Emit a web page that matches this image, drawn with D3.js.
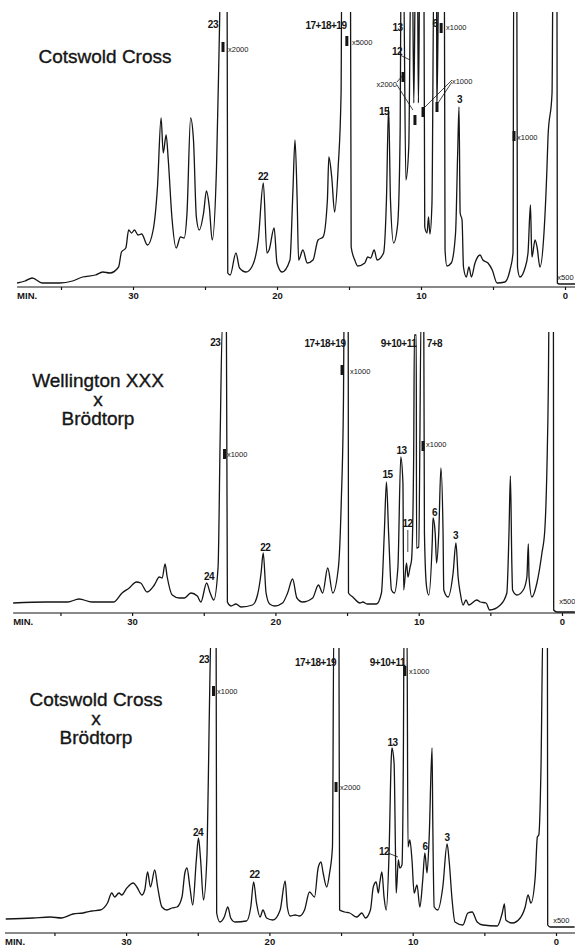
<!DOCTYPE html>
<html>
<head>
<meta charset="utf-8">
<script src="https://d3js.org/d3.v7.min.js"></script>
<style>
  body { margin: 0; background: #fff; }
  svg { display: block; font-family: 'Liberation Sans', Arial, sans-serif; }
  .trace { fill: none; stroke: #151515; stroke-width: 1.3; stroke-linejoin: round; }
  .axis path, .axis line { stroke: #151515; stroke-width: 1.2; }
  .axis text { font-size: 9.5px; font-weight: bold; fill: #151515; }
  .peak { font-size: 10px; font-weight: bold; fill: #151515; text-anchor: middle; letter-spacing: -0.5px; }
  .mult { font-size: 7.5px; fill: #151515; }
  .title { font-size: 19px; fill: #151515; stroke: #151515; stroke-width: 0.35px; text-anchor: middle; }
</style>
</head>
<body>
<div id="chart"></div>
<script>
// retention time (min) and detector response
const cotswoldTrace = [
  [38.05,1],[37.5,3],[37.0,6],[36.3,1],[35.1,1],[34.2,3],[33.5,7],[32.6,9],[32.1,12],[31.6,11],[31.0,17],[30.8,32],[30.5,36],[30.3,54],[30.1,51],[29.9,54],[29.65,49],[29.4,50],[29.0,39],[28.6,54],[28.3,97],[28.05,166],[27.9,131],[27.7,149],[27.55,124],[27.3,67],[27.0,36],[26.7,47],[26.45,46],[26.25,71],[26.0,166],[25.8,144],[25.6,67],[25.4,54],[25.1,71],[24.9,93],[24.7,77],[24.5,44],[24.2,117],[24.0,251],[23.9,320],[23.47,320],[23.42,11],[23.25,9],[22.85,31],[22.6,16],[22.15,12],[21.75,17],[21.3,44],[20.95,101],[20.7,31],[20.55,34],[20.2,56],[20.0,21],[19.65,12],[19.1,24],[18.9,91],[18.75,144],[18.6,84],[18.5,24],[18.2,34],[17.9,21],[17.5,24],[17.15,44],[16.8,47],[16.5,84],[16.4,127],[16.2,107],[16.0,72],[15.75,117],[15.55,191],[15.5,320],[14.9,320],[14.85,37],[14.6,24],[14.4,18],[13.9,21],[13.7,27],[13.5,26],[13.25,34],[13.05,24],[12.6,31],[12.4,84],[12.25,177],[12.12,84],[11.9,41],[11.62,60],[11.45,151],[11.38,320],[11.22,320],[11.05,104],[10.85,137],[10.7,320],[10.6,320],[10.5,181],[10.38,320],[10.25,320],[10.18,181],[10.08,320],[9.8,320],[9.74,57],[9.58,51],[9.48,67],[9.38,50],[9.24,80],[9.1,320],[8.92,320],[8.9,174],[8.75,320],[8.38,320],[8.33,34],[8.2,18],[7.9,21],[7.6,51],[7.45,133],[7.36,177],[7.28,71],[7.15,64],[7.05,17],[6.85,7],[6.67,17],[6.5,7],[6.25,21],[5.9,29],[5.7,24],[5.35,21],[5.05,14],[4.72,1],[4.17,2],[3.82,14],[3.61,31],[3.56,320],[3.35,320],[3.3,17],[3.13,7],[2.78,16],[2.57,31],[2.4,79],[2.33,40],[2.29,27],[2.08,44],[1.94,37],[1.74,17],[1.46,51],[1.25,117],[1.18,147],[0.9,191],[0.83,320],[0.56,320],[0.53,1],[0.4,0],[-0.7,0]
];
const wellingtonTrace = [
  [38.3,1],[36.0,2],[34.5,2],[33.7,5],[32.8,2],[31.3,2],[30.7,11],[30.2,16],[29.7,22],[29.4,21],[28.95,12],[28.45,19],[28.1,27],[27.9,26],[27.7,40],[27.55,27],[27.2,9],[26.7,6],[26.35,6],[25.9,11],[25.45,8],[25.2,2],[24.8,21],[24.55,11],[24.3,4],[24.0,37],[23.85,171],[23.7,280],[23.42,280],[23.35,2],[23.1,-2],[22.75,0],[22.4,-3],[21.6,-1],[21.25,9],[21.0,31],[20.85,51],[20.65,11],[20.4,0],[20.05,-2],[19.5,1],[19.15,11],[18.8,25],[18.5,6],[18.1,2],[17.4,6],[17.0,19],[16.7,11],[16.35,36],[16.0,11],[15.6,37],[15.4,104],[15.25,204],[15.2,300],[14.92,300],[14.9,11],[14.6,7],[14.1,1],[13.9,2],[13.6,0],[12.95,0],[12.6,11],[12.4,71],[12.25,122],[12.1,71],[11.9,14],[11.7,11],[11.45,37],[11.25,147],[11.1,121],[11.05,14],[10.85,41],[10.75,27],[10.6,37],[10.5,44],[10.35,150],[10.3,269],[10.17,269],[10.15,56],[10.0,57],[9.82,300],[9.65,300],[9.6,71],[9.45,17],[9.3,9],[9.05,64],[9.0,86],[8.85,71],[8.75,41],[8.6,71],[8.45,136],[8.3,71],[8.25,14],[7.95,7],[7.6,31],[7.4,61],[7.25,27],[7.1,11],[6.9,-1],[6.7,4],[6.5,-1],[5.95,4],[5.7,2],[5.3,1],[5.05,-6],[4.3,-1],[3.85,11],[3.7,71],[3.6,128],[3.5,40],[3.45,14],[3.15,9],[2.7,14],[2.45,27],[2.35,60],[2.3,27],[2.1,7],[1.75,21],[1.4,51],[1.2,74],[1.05,137],[0.95,221],[0.9,300],[0.6,300],[0.58,-6],[0.35,-8],[-0.9,-8]
];
const crossTrace = [
  [38.4,1],[36.5,2],[35.3,3],[34.5,2],[33.7,6],[33.0,7],[32.4,9],[31.8,10],[31.3,17],[31.0,27],[30.8,23],[30.5,27],[30.3,25],[29.95,32],[29.5,37],[29.25,33],[28.9,25],[28.7,30],[28.5,48],[28.3,33],[28.0,50],[27.8,33],[27.5,13],[27.15,10],[26.8,12],[26.45,13],[26.1,23],[25.9,47],[25.75,52],[25.55,33],[25.35,15],[25.1,60],[24.95,82],[24.8,60],[24.6,20],[24.35,67],[24.2,200],[24.05,300],[23.72,300],[23.68,7],[23.45,-2],[23.15,3],[22.9,13],[22.7,2],[22.4,-2],[21.6,-1],[21.3,13],[21.1,38],[20.9,17],[20.65,3],[20.45,10],[20.2,2],[19.75,0],[19.25,10],[18.9,39],[18.75,13],[18.55,4],[18.2,5],[17.9,4],[17.55,10],[17.2,28],[16.85,23],[16.6,52],[16.4,58],[16.25,47],[16.0,33],[15.8,47],[15.6,73],[15.5,300],[15.15,300],[15.1,10],[14.75,8],[14.4,7],[13.9,3],[13.55,7],[13.3,2],[12.95,10],[12.75,33],[12.55,38],[12.4,27],[12.3,37],[12.15,48],[12.0,23],[11.85,10],[11.65,67],[11.5,160],[11.45,172],[11.3,157],[11.2,67],[11.15,27],[11.0,60],[10.9,52],[10.75,55],[10.65,167],[10.6,300],[10.4,300],[10.33,73],[10.2,80],[10.05,60],[9.9,27],[9.7,35],[9.5,13],[9.3,40],[9.15,67],[9.0,47],[8.85,83],[8.65,172],[8.6,100],[8.5,13],[8.25,10],[7.9,33],[7.6,76],[7.45,58],[7.25,20],[7.05,-2],[6.5,-5],[6.15,7],[5.85,8],[5.5,-2],[5.1,-5],[4.1,-6],[3.75,7],[3.6,16],[3.5,0],[3.05,-3],[2.5,2],[2.15,13],[1.95,25],[1.75,17],[1.45,43],[1.3,83],[1.2,85],[1.05,150],[0.9,300],[0.6,300],[0.58,-5],[0.4,-7],[-1.3,-7]
];

// peak numbers: [label, time, response]
const cotswoldPeaks = [["23",24.45,256],["22",20.97,104],["17+18+19",16.6,255],["13",11.63,253],["12",11.67,229],["15",12.57,169],["6",9.03,257],["3",7.33,181]];
const wellingtonPeaks = [["23",24.2,258],["24",24.63,24],["22",20.7,53],["17+18+19",16.54,257],["9+10+11",11.41,257],["7+8",8.9,257],["13",11.2,150],["15",12.18,126],["12",10.78,77],["6",8.9,88],["3",7.43,65]];
const crossPeaks = [["23",24.56,257],["24",24.98,84],["22",21.04,42],["17+18+19",16.78,254],["9+10+11",11.76,254],["13",11.41,174],["12",12.0,65],["6",9.14,70],["3",7.6,79]];

// attenuation markers: [time, response]
const cotswoldMarks = [[23.75,237],[15.15,243],[8.6,256],[3.54,148],[11.25,207],[10.42,164],[9.86,172],[8.89,177]];
const wellingtonMarks = [[23.55,150],[15.35,234],[9.7,158]];
const crossMarks = [[23.9,229],[15.35,133],[10.55,249]];

// attenuation texts: [label, time, response, anchor]
const cotswoldMults = [["x2000",23.4,232,"start"],["x5000",14.8,239,"start"],["x1000",8.26,254,"start"],["x1000",3.33,144,"start"],["x500",-0.6,4,"end"],["x2000",11.67,197,"end"],["x1000",7.85,200,"start"]];
const wellingtonMults = [["x1000",23.38,147,"start"],["x1000",14.8,230,"start"],["x1000",9.49,157,"start"],["x500",0.2,0,"start"]];
const crossMults = [["x1000",23.65,226,"start"],["x2000",15.07,130,"start"],["x1000",10.26,246,"start"],["x500",0.2,-3,"start"]];

// leader lines: [t1, h1, t2, h2]
const cotswoldLeaders = [[11.46,229,10.76,224],[11.67,202,11.25,209],[11.67,199,10.56,174],[7.85,204,9.72,177],[7.85,202,8.82,181]];
const wellingtonLeaders = [[10.76,74,10.76,52]];
const crossLeaders = [[11.72,67,11.03,63]];

const cotswoldTitle = ["Cotswold Cross"];
const wellingtonTitle = ["Wellington XXX", "x", "Brödtorp"];
const crossTitle = ["Cotswold Cross", "x", "Brödtorp"];

const axisTicks = [35, 30, 25, 20, 15, 10, 5, 0];
const labelledTicks = [30, 20, 10, 0];
const axisName = "MIN.";

const panels = [
  {trace: cotswoldTrace, peaks: cotswoldPeaks, marks: cotswoldMarks, mults: cotswoldMults, leaders: cotswoldLeaders, title: cotswoldTitle,
   x0: 565, ppm: 14.4, tLeft: 38.05, tRight: -0.7, base: 284, axisH: -3, titleX: 105, titleY: 63},
  {trace: wellingtonTrace, peaks: wellingtonPeaks, marks: wellingtonMarks, mults: wellingtonMults, leaders: wellingtonLeaders, title: wellingtonTitle,
   x0: 562, ppm: 14.33, tLeft: 38.3, tRight: -0.9, base: 604, axisH: -9, titleX: 98, titleY: 387},
  {trace: crossTrace, peaks: crossPeaks, marks: crossMarks, mults: crossMults, leaders: crossLeaders, title: crossTitle,
   x0: 556, ppm: 14.33, tLeft: 38.45, tRight: -1.33, base: 920, axisH: -13, titleX: 96, titleY: 706}
];

const W = 575, H = 946, span = 272;

const svg = d3.select("#chart").append("svg")
  .attr("width", W).attr("height", H);
svg.append("rect").attr("width", W).attr("height", H).attr("fill", "#fff");

panels.forEach((p, i) => {
  const x = d3.scaleLinear().domain([p.tLeft, p.tRight])
    .range([p.x0 - p.ppm * p.tLeft, p.x0 - p.ppm * p.tRight]);
  const y = d3.scaleLinear().domain([0, span]).range([p.base, p.base - span]);

  const g = svg.append("g");

  svg.append("clipPath").attr("id", "clip" + i)
    .append("rect").attr("x", 0).attr("y", y(span)).attr("width", W).attr("height", H);

  // axis
  const ax = g.append("g").attr("class", "axis")
    .attr("transform", "translate(0," + y(p.axisH) + ")")
    .call(d3.axisBottom(x).tickValues(axisTicks).tickSize(3).tickSizeOuter(0).tickPadding(2)
      .tickFormat(d => labelledTicks.includes(d) ? d : ""));
  ax.select(".domain").attr("d", "M" + x(p.tLeft) + ",0H" + W);
  ax.append("text").attr("x", x(p.tLeft)).attr("y", 5).attr("dy", "0.71em")
    .attr("fill", "#151515").attr("text-anchor", "start").text(axisName);

  // trace
  const line = d3.line().x(d => x(d[0])).y(d => y(d[1])).curve(d3.curveMonotoneX);
  g.append("path").datum(p.trace).attr("class", "trace")
    .attr("clip-path", "url(#clip" + i + ")").attr("d", line);

  // attenuation marks and leaders
  g.selectAll(".mark").data(p.marks).join("rect").attr("class", "mark")
    .attr("x", d => x(d[0]) - 1.5).attr("y", d => y(d[1]) - 5)
    .attr("width", 3).attr("height", 10).attr("fill", "#151515");
  g.selectAll(".leader").data(p.leaders).join("line").attr("class", "leader")
    .attr("x1", d => x(d[0])).attr("y1", d => y(d[1]))
    .attr("x2", d => x(d[2])).attr("y2", d => y(d[3]))
    .attr("stroke", "#151515").attr("stroke-width", 0.8);
  g.selectAll(".mult").data(p.mults).join("text").attr("class", "mult")
    .attr("x", d => x(d[1])).attr("y", d => y(d[2]))
    .attr("text-anchor", d => d[3]).text(d => d[0]);

  // peak numbers
  g.selectAll(".peak").data(p.peaks).join("text").attr("class", "peak")
    .attr("x", d => x(d[1])).attr("y", d => y(d[2])).text(d => d[0]);

  // sample name
  g.selectAll(".title").data(p.title).join("text").attr("class", "title")
    .attr("x", p.titleX).attr("y", (d, k) => p.titleY + k * 19).text(d => d);
});
</script>
</body>
</html>
